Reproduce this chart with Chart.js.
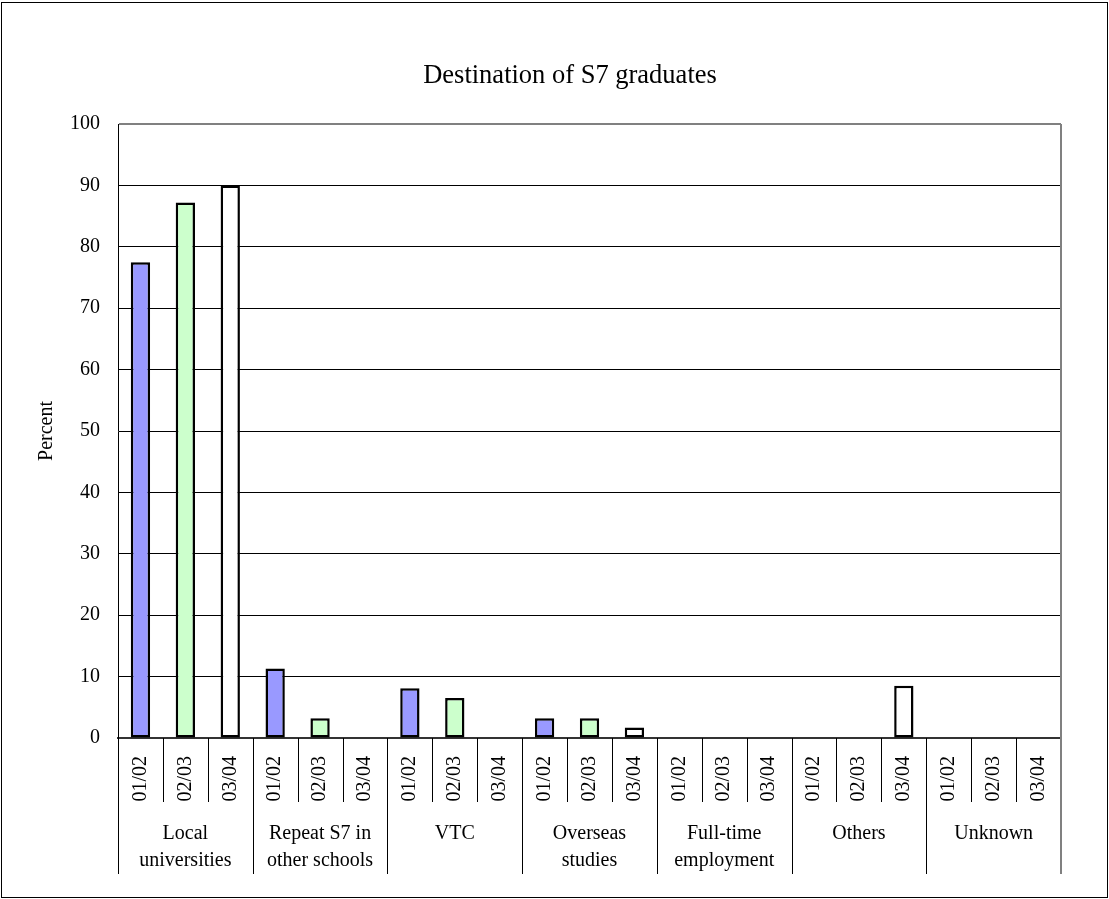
<!DOCTYPE html>
<html>
<head>
<meta charset="utf-8">
<script src="https://cdn.jsdelivr.net/npm/chart.js@4/dist/chart.umd.min.js"></script>
<style>
html,body{margin:0;padding:0;background:#fff;}
canvas{display:block;}
</style>
</head>
<body>
<canvas id="c" width="1109" height="899"></canvas>
<script>
// ---- data ----
const title = "Destination of S7 graduates";
const groups = [["Local","universities"],["Repeat S7 in","other schools"],["VTC"],["Overseas","studies"],["Full-time","employment"],["Others"],["Unknown"]];
const years = ["01/02","02/03","03/04"];
const s0102 = [77.5, 11.3, 8.1, 3.2, 0, 0, 0];
const s0203 = [87.2, 3.2, 6.5, 3.2, 0, 0, 0];
const s0304 = [90.0, 0, 0, 1.7, 0, 8.5, 0];
const yTicks = [0,10,20,30,40,50,60,70,80,90,100];
const colors = ["#9999FF","#CCFFCC","#FFFFFF"];

// build category labels (one per group/year) and datasets
const labels = [];
groups.forEach(() => years.forEach(y => labels.push(y)));
const seriesList = [s0102, s0203, s0304];
const datasets = seriesList.map((s, yi) => {
  const data = [];
  groups.forEach((g, gi) => years.forEach((y, k) => data.push(k === yi ? s[gi] : null)));
  return {label: years[yi], data, backgroundColor: colors[yi], borderColor: "#000", borderWidth: 2.5, borderSkipped: false};
});

const FONT = "'Liberation Serif','Times New Roman',serif";

const decor = {
  id: "decor",
  beforeDraw(chart) {
    const ctx = chart.ctx;
    ctx.save();
    ctx.fillStyle = "#fff";
    ctx.fillRect(0, 0, chart.width, chart.height);
    ctx.restore();
  },
  afterDraw(chart) {
    const ctx = chart.ctx;
    const x = chart.scales.x, ya = chart.scales.y;
    const area = chart.chartArea;
    const n = labels.length;
    const w = (area.right - area.left) / n;
    const base = ya.getPixelForValue(0);
    ctx.save();
    // title
    ctx.fillStyle = "#000";
    ctx.font = "26.5px " + FONT;
    ctx.textAlign = "center";
    ctx.textBaseline = "alphabetic";
    ctx.fillText(title, 570, 83);
    // separators
    ctx.strokeStyle = "#000";
    ctx.lineWidth = 1;
    for (let i = 0; i < n; i++) {
      const px = Math.round(area.left + i * w) + 0.5;
      const isGroup = i % 3 === 0;
      ctx.beginPath();
      ctx.moveTo(px, base);
      ctx.lineTo(px, isGroup ? base + 136 : base + 64);
      ctx.stroke();
    }
    // right border (gray)
    ctx.strokeStyle = "#808080";
    ctx.lineWidth = 2;
    ctx.beginPath();
    ctx.moveTo(area.right, area.top);
    ctx.lineTo(area.right, base + 136);
    ctx.stroke();
    // group labels
    ctx.fillStyle = "#000";
    ctx.font = "20px " + FONT;
    ctx.textAlign = "center";
    ctx.textBaseline = "middle";
    groups.forEach((g, gi) => {
      const cx = x.getPixelForValue(gi * 3 + 1);
      g.forEach((line, li) => ctx.fillText(line, cx, base + 96 + li * 27));
    });
    // outer border
    ctx.strokeStyle = "#000";
    ctx.lineWidth = 1;
    ctx.strokeRect(1.5, 2.5, chart.width - 3, chart.height - 4);
    ctx.restore();
  }
};

new Chart(document.getElementById("c"), {
  type: "bar",
  data: {labels, datasets},
  plugins: [decor],
  options: {
    responsive: false,
    animation: false,
    devicePixelRatio: 1,
    layout: {padding: {left: 0, right: 48, top: 124, bottom: 24}},
    datasets: {bar: {skipNull: true, categoryPercentage: 1, barPercentage: 0.43}},
    plugins: {
      legend: {display: false},
      tooltip: {enabled: false},
      title: {display: false}
    },
    scales: {
      x: {
        offset: true,
        grid: {display: false, drawTicks: false},
        border: {display: true, color: "#333", width: 2},
        ticks: {color: "#000", font: {family: FONT, size: 20}, minRotation: 90, maxRotation: 90, padding: 18, autoSkip: false},
        afterFit(s) { s.height = 137; }
      },
      y: {
        min: 0, max: 100,
        afterBuildTicks(s) { s.ticks = yTicks.map(v => ({value: v})); },
        grid: {
          drawTicks: false,
          color: c => (c.tick && c.tick.value === 100) ? "#808080" : "#000",
          lineWidth: c => (c.tick && c.tick.value === 100) ? 2 : 1
        },
        border: {display: true, color: "#000", width: 1},
        ticks: {color: "#000", font: {family: FONT, size: 20}, padding: 18},
        title: {display: true, text: "Percent", color: "#000", font: {family: FONT, size: 20}, padding: {top: 35, bottom: 0}},
        afterFit(s) { s.width = 118; }
      }
    }
  }
});
</script>
</body>
</html>
